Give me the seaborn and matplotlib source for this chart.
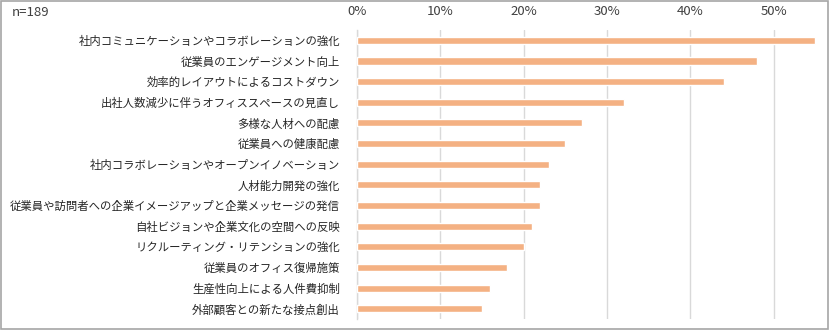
import matplotlib
matplotlib.use("Agg")
import matplotlib.pyplot as plt
import seaborn as sns
import pandas as pd
from matplotlib.ticker import PercentFormatter, MultipleLocator

categories = [
    "社内コミュニケーションやコラボレーションの強化",
    "従業員のエンゲージメント向上",
    "効率的レイアウトによるコストダウン",
    "出社人数減少に伴うオフィススペースの見直し",
    "多様な人材への配慮",
    "従業員への健康配慮",
    "社内コラボレーションやオープンイノベーション",
    "人材能力開発の強化",
    "従業員や訪問者への企業イメージアップと企業メッセージの発信",
    "自社ビジョンや企業文化の空間への反映",
    "リクルーティング・リテンションの強化",
    "従業員のオフィス復帰施策",
    "生産性向上による人件費抑制",
    "外部顧客との新たな接点創出",
]
values = [55, 48, 44, 32, 27, 25, 23, 22, 22, 21, 20, 18, 16, 15]
n_label = "n=189"

sns.set_theme(style="white")
plt.rcParams['font.family'] = ['Noto Sans CJK JP', 'DejaVu Sans']

df = pd.DataFrame({"cat": categories, "val": values})

fig = plt.figure(figsize=(8.3, 3.3), dpi=100)
ax = fig.add_axes([0.4298, 0.0333, 0.9855 - 0.4298, 0.909 - 0.0333])

sns.barplot(data=df, x="val", y="cat", orient="h", color="#F4B183",
            saturation=1, width=0.34, ax=ax, zorder=3)

ax.set_xlim(0, 55.3)
ax.set_ylim(13.5, -0.5)
ax.xaxis.set_major_locator(MultipleLocator(10))
ax.xaxis.set_major_formatter(PercentFormatter(decimals=0))
ax.xaxis.tick_top()
ax.xaxis.set_label_position("top")
ax.set_xlabel("")
ax.set_ylabel("")
ax.grid(axis="x", color="#D9D9D9", linewidth=1, zorder=0)
for s in ["top", "right", "bottom"]:
    ax.spines[s].set_visible(False)
ax.spines["left"].set_color("#D9D9D9")
ax.spines["left"].set_linewidth(1)
ax.tick_params(axis="x", length=0, pad=9, labelsize=9.5, colors="#404040")
ax.tick_params(axis="y", length=0, pad=12, labelsize=8.2, colors="#262626")

fig.text(12 / 830, 1 - 12 / 330, n_label, ha="left", va="center",
         fontsize=9.5, color="#404040")

border = plt.Rectangle((0.001, 0.002), 0.997, 0.995, transform=fig.transFigure,
                       fill=False, edgecolor="#A6A6A6", linewidth=1.2)
fig.patches.append(border)

fig.savefig("out.png", dpi=100, facecolor="white")
